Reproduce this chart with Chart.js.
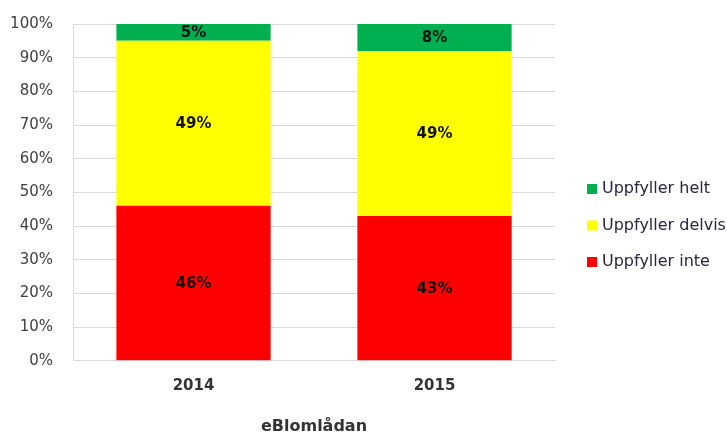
<!DOCTYPE html>
<html>
<head>
<meta charset="utf-8">
<script src="https://cdn.jsdelivr.net/npm/chart.js@4/dist/chart.umd.min.js"></script>
<style>
  html, body { margin: 0; padding: 0; background: #fff; }
  #wrap { width: 727px; height: 436px; }
</style>
</head>
<body>
<div id="wrap"><canvas id="chart" width="727" height="436"></canvas></div>
<script>
const years = ["2014", "2015"];
const uppfyllerInte = [46, 43];
const uppfyllerDelvis = [49, 49];
const uppfyllerHelt = [5, 8];
const yTicks = [0, 10, 20, 30, 40, 50, 60, 70, 80, 90, 100];

// draws the percentage in the middle of each bar segment
const barLabels = {
  id: "barLabels",
  afterDatasetsDraw(chart) {
    const ctx = chart.ctx;
    ctx.save();
    ctx.font = "bold 15px 'DejaVu Sans', sans-serif";
    ctx.fillStyle = "#111";
    ctx.textAlign = "center";
    ctx.textBaseline = "middle";
    chart.data.datasets.forEach((set, i) => {
      chart.getDatasetMeta(i).data.forEach((bar, j) => {
        const mid = (bar.y + bar.base) / 2;
        ctx.fillText(`${set.data[j]}%`, bar.x, mid + 1);
      });
    });
    ctx.restore();
  },
};

// legend at the right, top item = last series (like Excel)
const sideLegend = {
  id: "sideLegend",
  afterDraw(chart) {
    const ctx = chart.ctx;
    const sets = chart.data.datasets.slice().reverse();
    ctx.save();
    ctx.font = "16px 'DejaVu Sans', sans-serif";
    ctx.textBaseline = "middle";
    ctx.textAlign = "left";
    sets.forEach((set, i) => {
      const y = 189 + i * 36.5;
      ctx.fillStyle = set.backgroundColor;
      ctx.fillRect(587, y - 5, 10, 10);
      ctx.fillStyle = "#2b2540";
      ctx.fillText(set.label, 602, y);
    });
    ctx.restore();
  },
};

new Chart(document.getElementById("chart"), {
  type: "bar",
  data: {
    labels: years,
    datasets: [
      { label: "Uppfyller inte", data: uppfyllerInte, backgroundColor: "#ff0000" },
      { label: "Uppfyller delvis", data: uppfyllerDelvis, backgroundColor: "#ffff00" },
      { label: "Uppfyller helt", data: uppfyllerHelt, backgroundColor: "#00b050" },
    ],
  },
  options: {
    responsive: false,
    animation: false,
    layout: { padding: { top: 24, right: 172, left: 8, bottom: 0 } },
    datasets: { bar: { categoryPercentage: 0.64, barPercentage: 1 } },
    plugins: {
      tooltip: { enabled: false },
      legend: { display: false },
    },
    scales: {
      x: {
        stacked: true,
        grid: { display: false },
        border: { color: "#d9d9d9" },
        ticks: { color: "#333", padding: 8, font: { family: "'DejaVu Sans', sans-serif", size: 15, weight: "bold" } },
        title: {
          display: true,
          text: "eBlomlådan",
          color: "#333",
          padding: { top: 14, bottom: 0 },
          font: { family: "'DejaVu Sans', sans-serif", size: 16, weight: "bold" },
        },
      },
      y: {
        stacked: true,
        min: 0,
        max: 100,
        afterBuildTicks: (axis) => { axis.ticks = yTicks.map((v) => ({ value: v })); },
        afterFit: (axis) => {
          axis.width = 65;
          axis.paddingTop = 0;
        },
        grid: { color: "#d9d9d9", drawTicks: false },
        border: { color: "#d9d9d9" },
        ticks: {
          color: "#404040",
          padding: 20,
          font: { family: "'DejaVu Sans', sans-serif", size: 15 },
          callback: (v) => `${v}%`,
        },
      },
    },
  },
  plugins: [barLabels, sideLegend],
});
</script>
</body>
</html>
